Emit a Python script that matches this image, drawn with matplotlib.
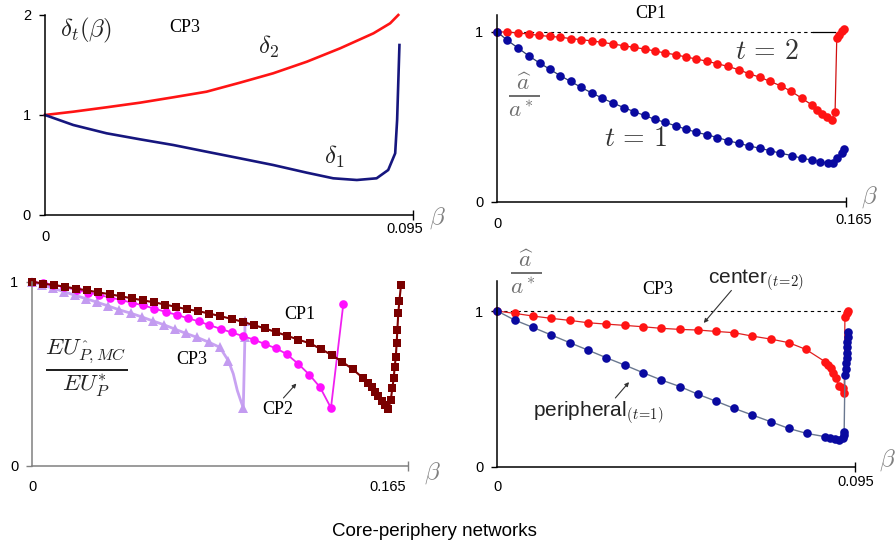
import matplotlib
matplotlib.use('Agg')
import matplotlib.pyplot as plt
import numpy as np

plt.rcParams['font.family'] = ['Liberation Sans', 'DejaVu Sans']
plt.rcParams['mathtext.fontset'] = 'cm'

# ---- top left: delta_t(beta), CP3 ----
d_beta2 = [0, 0.0073, 0.0159, 0.0245, 0.0331, 0.0417, 0.0503, 0.0589, 0.0676, 0.0762,
           0.0848, 0.0891, 0.0912]
delta2 = [1.0, 1.033, 1.077, 1.123, 1.177, 1.233, 1.323, 1.417, 1.533, 1.667,
          1.817, 1.917, 2.0]
d_beta1 = [0, 0.0073, 0.0159, 0.0245, 0.0331, 0.0417, 0.0503, 0.0589, 0.0676, 0.0744,
           0.0805, 0.0856, 0.0886, 0.0904, 0.0909, 0.0915]
delta1 = [1.0, 0.90, 0.817, 0.757, 0.70, 0.633, 0.567, 0.50, 0.423, 0.367,
          0.35, 0.367, 0.45, 0.617, 0.95, 1.70]

# ---- top right: a_hat / a*, CP1 ----
cp1_beta_t2 = [0, 0.00473, 0.00977, 0.01481, 0.01954, 0.02474, 0.02979, 0.03467, 0.03971, 0.04476,
               0.04964, 0.05469, 0.05973, 0.06461, 0.06966, 0.07438, 0.07943, 0.08431, 0.08935, 0.09408,
               0.09928, 0.10401, 0.10905, 0.11409, 0.11898, 0.12402, 0.12891, 0.13395, 0.13899, 0.1439,
               0.1486, 0.1510, 0.1534, 0.1557, 0.1581, 0.1597, 0.1605, 0.1617, 0.1628, 0.1639]
cp1_t2 = [1.0, 1.0, 0.994, 0.988, 0.980, 0.974, 0.969, 0.961, 0.955, 0.947,
          0.939, 0.929, 0.919, 0.909, 0.900, 0.888, 0.876, 0.866, 0.852, 0.841,
          0.827, 0.813, 0.797, 0.778, 0.754, 0.734, 0.709, 0.683, 0.650, 0.610,
          0.571, 0.541, 0.518, 0.498, 0.482, 0.531, 0.965, 0.984, 1.004, 1.018]
cp1_beta_t1 = [0, 0.00473, 0.00977, 0.01481, 0.02001, 0.02474, 0.02979, 0.03467, 0.03971, 0.04476,
               0.04964, 0.05469, 0.05973, 0.06461, 0.06966, 0.07438, 0.07943, 0.08431, 0.08935, 0.09408,
               0.09928, 0.10401, 0.10905, 0.11409, 0.11898, 0.12402, 0.12891, 0.1337, 0.1392, 0.1439,
               0.1486, 0.1526, 0.1565, 0.1589, 0.1608, 0.1628, 0.1641]
cp1_t1 = [1.0, 0.951, 0.906, 0.860, 0.817, 0.781, 0.742, 0.709, 0.673, 0.640,
          0.610, 0.581, 0.555, 0.531, 0.508, 0.486, 0.467, 0.447, 0.427, 0.409,
          0.394, 0.378, 0.360, 0.344, 0.329, 0.315, 0.301, 0.286, 0.272, 0.256,
          0.246, 0.236, 0.227, 0.230, 0.256, 0.289, 0.309]

# ---- bottom left: EU ratio for CP1, CP2, CP3 ----
eu_beta_cp1 = [0, 0.00483, 0.00951, 0.01434, 0.01916, 0.02414, 0.02896, 0.03408, 0.03876, 0.04359,
               0.04842, 0.05339, 0.05822, 0.06305, 0.06802, 0.07285, 0.07767, 0.08235, 0.08747, 0.09230,
               0.09727, 0.10210, 0.10693, 0.11190, 0.11673, 0.1219, 0.1266, 0.1314, 0.1360, 0.1406,
               0.1453, 0.1475, 0.1489, 0.1504, 0.1518, 0.1533, 0.1548, 0.1562, 0.1573, 0.1580,
               0.1586, 0.1590, 0.1595, 0.1599, 0.1602, 0.1606, 0.1611, 0.1618]
eu_cp1 = [1.0, 0.989, 0.982, 0.973, 0.962, 0.953, 0.942, 0.932, 0.921, 0.910,
          0.899, 0.888, 0.876, 0.863, 0.850, 0.840, 0.827, 0.813, 0.798, 0.782,
          0.764, 0.746, 0.726, 0.706, 0.685, 0.665, 0.634, 0.602, 0.565, 0.524,
          0.475, 0.448, 0.426, 0.402, 0.379, 0.353, 0.330, 0.307, 0.357, 0.421,
          0.475, 0.535, 0.589, 0.668, 0.738, 0.828, 0.897, 0.982]
eu_beta_cp2 = [0, 0.00453, 0.00922, 0.01390, 0.01946, 0.02457, 0.02926, 0.03408, 0.03891, 0.04388,
               0.04842, 0.05354, 0.05851, 0.06334, 0.06817, 0.07314, 0.07767, 0.08265, 0.08747, 0.09230,
               0.09727, 0.10210, 0.10693, 0.11161, 0.11673, 0.12155, 0.12624, 0.13106, 0.13647]
eu_cp2 = [1.0, 0.991, 0.982, 0.971, 0.955, 0.941, 0.928, 0.914, 0.901, 0.885,
          0.872, 0.854, 0.836, 0.820, 0.802, 0.784, 0.764, 0.744, 0.724, 0.705,
          0.685, 0.661, 0.638, 0.607, 0.553, 0.495, 0.427, 0.314, 0.877]
eu_beta_cp3 = [0, 0.00439, 0.00922, 0.01390, 0.01872, 0.02355, 0.02852, 0.03335, 0.03818, 0.04315,
               0.04798, 0.05281, 0.05778, 0.06261, 0.06743, 0.07241, 0.07767, 0.08235, 0.08601, 0.08820,
               0.08996, 0.09142, 0.09259, 0.0933, 0.0933]
eu_cp3 = [1.0, 0.982, 0.964, 0.946, 0.926, 0.908, 0.888, 0.868, 0.847, 0.829,
          0.809, 0.787, 0.766, 0.742, 0.719, 0.697, 0.670, 0.643, 0.571, 0.499,
          0.409, 0.355, 0.314, 0.697, 0.784]
cp3_marked = [i for i in range(len(eu_cp3)) if i not in (19, 20, 21)]

# ---- bottom right: a_hat / a*, CP3 ----
cp3_beta_center = [0, 0.00461, 0.00948, 0.01436, 0.01923, 0.02410, 0.02898, 0.03385, 0.03873, 0.04360,
                   0.04865, 0.05335, 0.05822, 0.06292, 0.06779, 0.07267, 0.07745, 0.08200, 0.0871, 0.0880,
                   0.0886, 0.0893, 0.0900, 0.0909, 0.0918, 0.0922, 0.0924, 0.0929, 0.0933]
cp3_center = [1.0, 0.985, 0.968, 0.953, 0.940, 0.925, 0.916, 0.908, 0.899, 0.889,
              0.882, 0.878, 0.869, 0.861, 0.839, 0.820, 0.797, 0.754, 0.675, 0.653,
              0.632, 0.600, 0.568, 0.518, 0.503, 0.471, 0.963, 0.985, 1.002]
cp3_beta_periph = [0, 0.00461, 0.00948, 0.01436, 0.01923, 0.02410, 0.02898, 0.03385, 0.03873, 0.04360,
                   0.04865, 0.05335, 0.05822, 0.06292, 0.06779, 0.07267, 0.07745, 0.08220, 0.0871, 0.0884,
                   0.0898, 0.0909, 0.0918, 0.0922, 0.0922, 0.0924, 0.0926, 0.0927, 0.0929, 0.0929,
                   0.0929, 0.0930, 0.0931, 0.0933]
cp3_periph = [1.0, 0.942, 0.895, 0.846, 0.797, 0.749, 0.700, 0.653, 0.604, 0.557,
              0.514, 0.465, 0.420, 0.375, 0.332, 0.289, 0.246, 0.214, 0.193, 0.182,
              0.176, 0.171, 0.182, 0.204, 0.225, 0.589, 0.627, 0.664, 0.696, 0.732,
              0.771, 0.803, 0.835, 0.867]

RED = '#FF1414'
BLUE = '#0A0AA0'
serif = ['Liberation Serif', 'DejaVu Serif']

fig = plt.figure(figsize=(8.96, 5.47), dpi=100)


def setup(ax, xmax, ymax, ylabels, spine_color='black'):
    for s in ['top', 'right']:
        ax.spines[s].set_visible(False)
    for s in ['left', 'bottom']:
        ax.spines[s].set_color(spine_color)
        ax.spines[s].set_linewidth(1.1)
    ax.set_xlim(0, xmax)
    ax.set_ylim(0, ymax)
    ax.set_yticks(ylabels)
    ax.set_yticklabels([str(v) for v in ylabels], fontsize=10.5)
    ax.set_xticks([xmax])
    ax.set_xticklabels([])
    ax.tick_params(axis='y', length=4, width=1, pad=6, colors=spine_color, labelcolor='black')
    ax.tick_params(axis='x', direction='inout', length=7, width=1, colors=spine_color)


def xlabels(ax, xmax, text, zero_dy, end_dx, end_dy):
    ax.annotate('0', xy=(0, 0), xycoords=('data', 'axes fraction'), xytext=(0, -zero_dy),
                textcoords='offset points', ha='center', va='center', fontsize=10.5)
    ax.annotate(text, xy=(xmax, 0), xycoords=('data', 'axes fraction'), xytext=(end_dx, -end_dy),
                textcoords='offset points', ha='center', va='center', fontsize=10.5)


# top left
ax1 = fig.add_axes([45 / 896, 1 - 215 / 547, 368 / 896, 200 / 547])
setup(ax1, 0.095, 2, [0, 1, 2])
ax1.plot(d_beta2, delta2, color=RED, lw=1.9, clip_on=False)
ax1.plot(d_beta1, delta1, color='#16167E', lw=1.9, clip_on=False)
xlabels(ax1, 0.095, '0.095', 16, -6, 10)
ax1.text(0.0106, 1.85, r'$\delta_t(\beta)$', fontsize=18, ha='center', va='center', color='#222222')
ax1.text(0.0361, 1.87, 'CP3', family=serif, fontsize=13, ha='center', va='center')
ax1.text(0.0576, 1.68, r'$\delta_2$', fontsize=18, ha='center', va='center', color='#222222')
ax1.text(0.0746, 0.58, r'$\delta_1$', fontsize=18, ha='center', va='center', color='#222222')
ax1.text(0.1012, -0.03, r'$\beta$', fontsize=18, ha='center', va='center', color='#808080', clip_on=False)

# top right
ax2 = fig.add_axes([497.3 / 896, 1 - 201.7 / 547, 349 / 896, 186.7 / 547])
setup(ax2, 0.165, 1.10, [0, 1])
ax2.plot([0, 0.1494], [1, 1], color='black', lw=0.8, ls=(0, (3, 3)))
ax2.plot([0.1494, 0.1597], [1, 1], color='black', lw=0.9)
ax2.plot(cp1_beta_t2, cp1_t2, color='#D01010', lw=0.9, marker='o', ms=6.2,
         mfc=RED, mec=RED, mew=0, clip_on=False)
ax2.plot(cp1_beta_t1, cp1_t1, color='#2A3A70', lw=0.9, marker='o', ms=6.2,
         mfc=BLUE, mec=BLUE, mew=0, clip_on=False)
xlabels(ax2, 0.165, '0.165', 16, 5, 13)
ax2.text(0.0725, 1.111, 'CP1', family=serif, fontsize=13, ha='center', va='center', clip_on=False)
ax2.text(0.1274, 0.884, r'$t\,=\,2$', fontsize=20, ha='center', va='center', color='#333333')
ax2.text(0.0655, 0.370, r'$t\,=\,1$', fontsize=20, ha='center', va='center', color='#333333')
ax2.text(0.0126, 0.629, r'$\frac{\widehat{a}}{a^*}$', fontsize=24, ha='center', va='center', color='#707070')
ax2.text(0.1761, 0.028, r'$\beta$', fontsize=18, ha='center', va='center', color='#808080', clip_on=False)

# bottom left
ax3 = fig.add_axes([32.3 / 896, 1 - 465.7 / 547, 376 / 896, 184 / 547])
setup(ax3, 0.165, 1.0, [0, 1], spine_color='#808080')
ax3.plot(eu_beta_cp3, eu_cp3, color='#C8A2F2', lw=2.0, marker='^', ms=6.5,
         markevery=cp3_marked, mfc='#C39BF0', mec='#C39BF0', mew=0, clip_on=False)
ax3.plot(eu_beta_cp2, eu_cp2, color='#F020F0', lw=1.3, marker='o', ms=6.2,
         mfc='#FF10FF', mec='#FF10FF', mew=0, clip_on=False)
ax3.plot(eu_beta_cp1, eu_cp1, color='#800000', lw=1.5, marker='s', ms=5.2,
         mfc='#7A0000', mec='#7A0000', mew=0, clip_on=False)
xlabels(ax3, 0.165, '0.165', 15, -15, 15)
ax3.text(0.1175, 0.824, 'CP1', family=serif, fontsize=13, ha='center', va='center')
ax3.text(0.0701, 0.575, 'CP3', family=serif, fontsize=13, ha='center', va='center')
ax3.text(0.1078, 0.308, 'CP2', family=serif, fontsize=13, ha='center', va='center')
ax3.annotate('', xy=(0.1167, 0.458), xytext=(0.1094, 0.357),
             arrowprops=dict(arrowstyle='-|>', color='#333333', lw=0.8, mutation_scale=6))
ax3.text(0.0236, 0.531, r'$\frac{EU^{\hat{\ }}_{P,MC}}{EU^{*}_{P}}$', fontsize=24,
         ha='center', va='center', color='#222222')
ax3.text(0.1754, -0.04, r'$\beta$', fontsize=18, ha='center', va='center', color='#808080', clip_on=False)

# bottom right
ax4 = fig.add_axes([497.3 / 896, 1 - 466.7 / 547, 357.4 / 896, 186 / 547])
setup(ax4, 0.095, 1.195, [0, 1])
ax4.plot([0, 0.0924], [1, 1], color='black', lw=0.8, ls=(0, (3, 3)))
ax4.plot(cp3_beta_center, cp3_center, color='#E02020', lw=0.9, marker='o', ms=6.2,
         mfc=RED, mec=RED, mew=0, clip_on=False)
ax4.plot(cp3_beta_periph, cp3_periph, color='#6A7890', lw=1.0, marker='o', ms=6.2,
         mfc=BLUE, mec=BLUE, mew=0, clip_on=False)
xlabels(ax4, 0.095, '0.095', 14.5, 1, 11)
ax4.text(0.0074, 1.25, r'$\frac{\widehat{a}}{a^*}$', fontsize=24, ha='center', va='center',
         color='#707070', clip_on=False)
ax4.text(0.0427, 1.141, 'CP3', family=serif, fontsize=13, ha='center', va='center')
ax4.text(0.0560, 1.178, r'center$_{(t\!=\!2)}$', fontsize=15, ha='left', va='baseline', color='#222222')
ax4.text(0.0095, 0.321, r'peripheral$_{(t\!=\!1)}$', fontsize=15, ha='left', va='baseline', color='#222222')
ax4.annotate('', xy=(0.0544, 0.910), xytext=(0.0627, 1.146),
             arrowprops=dict(arrowstyle='-|>', color='#333333', lw=0.8, mutation_scale=6))
ax4.annotate('', xy=(0.0355, 0.557), xytext=(0.0309, 0.428),
             arrowprops=dict(arrowstyle='-|>', color='#333333', lw=0.8, mutation_scale=6))
ax4.text(0.1036, 0.043, r'$\beta$', fontsize=18, ha='center', va='center', color='#808080', clip_on=False)

fig.text(434.5 / 896, 1 - 531 / 547, 'Core-periphery networks', fontsize=13.5, ha='center', va='center')

fig.savefig('out.png', dpi=100, facecolor='white')
